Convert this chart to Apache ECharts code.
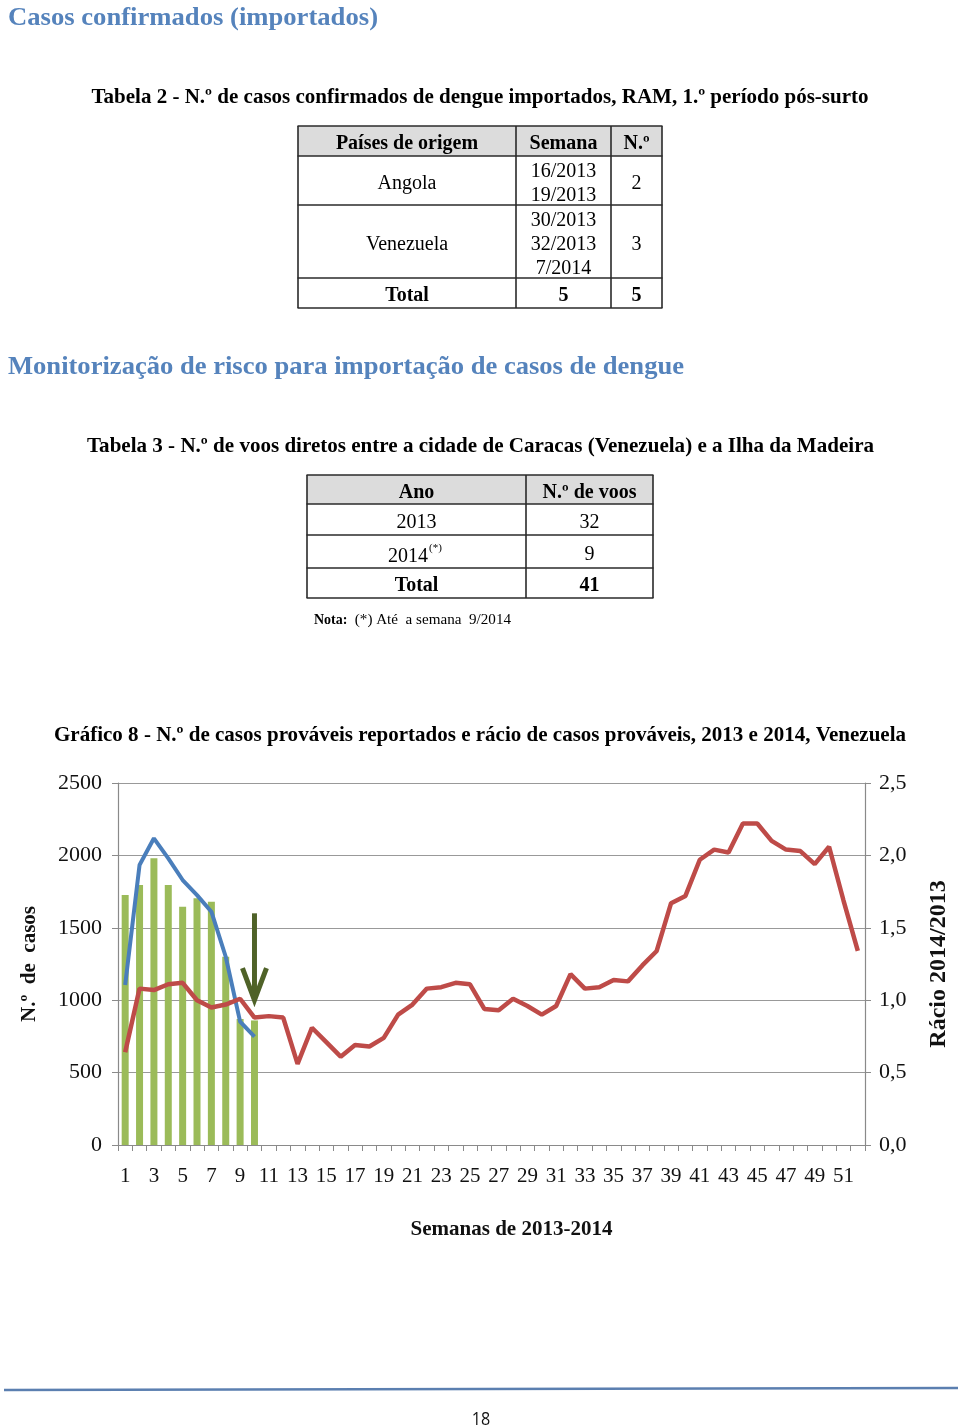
<!DOCTYPE html>
<html><head><meta charset="utf-8">
<script src="https://cdn.jsdelivr.net/npm/echarts@6/dist/echarts.min.js"></script>
<style>html,body{margin:0;padding:0;background:#fff}#c{width:960px;height:1428px}</style>
</head><body><div id="c"></div>
<script>
// ---------- DATA ----------
const weeks = ['1','2','3','4','5','6','7','8','9','10','11','12','13','14','15','16','17','18','19','20','21','22','23','24','25','26','27','28','29','30','31','32','33','34','35','36','37','38','39','40','41','42','43','44','45','46','47','48','49','50','51','52'];
const casosBarras = [1726,1796,1980,1796,1646,1704,1680,1300,870,860];
const casosLinha = [1105,1934,2118,1980,1830,1726,1611,1300,852,748];
const racio = [0.64,1.08,1.07,1.11,1.12,1.00,0.95,0.97,1.01,0.88,0.89,0.88,0.56,0.81,0.71,0.61,0.69,0.68,0.74,0.90,0.97,1.08,1.09,1.12,1.11,0.94,0.93,1.01,0.96,0.90,0.96,1.18,1.08,1.09,1.14,1.13,1.24,1.34,1.67,1.72,1.97,2.04,2.02,2.22,2.22,2.10,2.04,2.03,1.94,2.06,1.69,1.34];
const casosTicks = ['0','500','1000','1500','2000','2500'];
const racioTicks = ['0,0','0,5','1,0','1,5','2,0','2,5'];
const seta = ['10', 1600, 1000]; // week, start value, tip value

const t2Head = ['Países de origem','Semana','N.º'];
const t2Rows = [
  ['Angola', ['16/2013','19/2013'], '2'],
  ['Venezuela', ['30/2013','32/2013','7/2014'], '3'],
  ['Total', ['5'], '5']
];
const t3Head = ['Ano','N.º de voos'];
const t3Rows = [['2013','32'],['2014','9'],['Total','41']];

const h1 = 'Casos confirmados (importados)';
const t2Title = 'Tabela 2 - N.º de casos confirmados de dengue importados, RAM, 1.º período pós-surto';
const h2 = 'Monitorização de risco para importação de casos de dengue';
const t3Title = 'Tabela 3 - N.º de voos diretos entre a cidade de Caracas (Venezuela) e a Ilha da Madeira';
const gTitle = 'Gráfico 8 - N.º de casos prováveis reportados e rácio de casos prováveis, 2013 e 2014, Venezuela';
const nota = ['Nota:', ' (*) Até  a semana  9/2014'];
const pageNum = '18';

// ---------- HELPERS ----------
const SERIF = '"Liberation Serif", "Times New Roman", serif';
const DY = 2;
const mctx = document.createElement('canvas').getContext('2d');
function fit(text, font, w){ mctx.font = font; return w / mctx.measureText(text).width; }
function T(text, x, y, font, o){
  o = o || {};
  const s = o.w ? fit(text, font, o.w) : (o.s || 1);
  const al = o.align || 'center';
  return {type:'text', x:x, y:y + DY, scaleX:s, z:100, silent:true,
    style:{text:text, font:font, fill:o.color||'#000', textAlign:al, align:al, textVerticalAlign:'middle', verticalAlign:'middle'}};
}
function grid(colX, rowY){
  const els = [];
  const L = colX[0], R = colX[colX.length-1], Tp = rowY[0], B = rowY[rowY.length-1];
  els.push({type:'rect', z:90, shape:{x:L, y:Tp, width:R-L, height:rowY[1]-Tp}, style:{fill:'#DCDCDC'}});
  rowY.forEach(y => els.push({type:'line', z:95, shape:{x1:L-0.5,y1:y,x2:R+0.5,y2:y}, style:{stroke:'#2a2a2a', lineWidth:1.6}}));
  colX.forEach(x => els.push({type:'line', z:95, shape:{x1:x,y1:Tp,x2:x,y2:B}, style:{stroke:'#2a2a2a', lineWidth:1.6}}));
  return els;
}

const G = [];
const BLUE = '#5583BC';
G.push(T(h1, 8, 17, 'bold 25px ' + SERIF, {align:'left', color:BLUE, w:370}));
G.push(T(t2Title, 480, 96, 'bold 21px ' + SERIF, {w:777}));
// Table 2
const t2X = [298,516,611,662], t2Y = [126,156,205,278,308];
G.push(...grid(t2X, t2Y));
t2Head.forEach((h,i) => G.push(T(h, (t2X[i]+t2X[i+1])/2, 142, 'bold 20px ' + SERIF)));
t2Rows.forEach((r, ri) => {
  const cy = (t2Y[ri+1] + t2Y[ri+2]) / 2 + 1;
  const bold = ri === t2Rows.length - 1;
  const f = (bold ? 'bold ' : '') + '20px ' + SERIF;
  G.push(T(r[0], (t2X[0]+t2X[1])/2, cy, f));
  r[1].forEach((w, k) => G.push(T(w, (t2X[1]+t2X[2])/2, cy + (k - (r[1].length-1)/2) * 24, f)));
  G.push(T(r[2], (t2X[2]+t2X[3])/2, cy, f));
});
G.push(T(h2, 8, 365, 'bold 26px ' + SERIF, {align:'left', color:BLUE, w:676}));
G.push(T(t3Title, 480.5, 444, 'bold 22px ' + SERIF, {w:787}));
// Table 3
const t3X = [307,526,653], t3Y = [475,504,535,568,598];
G.push(...grid(t3X, t3Y));
t3Head.forEach((h,i) => G.push(T(h, (t3X[i]+t3X[i+1])/2, 491, 'bold 20px ' + SERIF)));
t3Rows.forEach((r, ri) => {
  const cy = (t3Y[ri+1] + t3Y[ri+2]) / 2 + 1;
  const bold = ri === t3Rows.length - 1;
  const f = (bold ? 'bold ' : '') + '20px ' + SERIF;
  if (ri === 1) {
    G.push(T(r[0], 428, cy + 2, f, {align:'right'}));
    G.push(T('(*)', 429, cy - 6, '11px ' + SERIF, {align:'left'}));
  } else {
    G.push(T(r[0], (t3X[0]+t3X[1])/2, cy, f));
  }
  G.push(T(r[1], (t3X[1]+t3X[2])/2, cy, f));
});
G.push(T(nota[0], 314, 618, 'bold 14px ' + SERIF, {align:'left'}));
G.push(T(nota[1], 351, 618, '14px ' + SERIF, {align:'left', w:160}));
G.push(T(gTitle, 480, 733, 'bold 22px ' + SERIF, {w:852}));
// footer
G.push({type:'line', z:90, shape:{x1:4,y1:1390,x2:958,y2:1388}, style:{stroke:'#5B7FB0', lineWidth:2.5}});
G.push(T(pageNum, 481, 1418, '19px "Open Sans", sans-serif', {s:0.85, color:'#111'}));

// ---------- CHART ----------
const chart = echarts.init(document.getElementById('c'), null, {renderer:'canvas'});
const axisFont = {fontFamily:SERIF, fontSize:22, color:'#111'};
const nameFont = {fontFamily:SERIF, fontWeight:'bold', fontSize:21, color:'#111'};
chart.setOption({
  animation:false,
  backgroundColor:'#fff',
  graphic:G,
  grid:{left:118, right:95, top:783, bottom:283},
  xAxis:{
    type:'category', data:weeks, boundaryGap:true,
    axisLine:{lineStyle:{color:'#8a8a8a', width:1.2}},
    axisTick:{show:true, interval:0, length:6, lineStyle:{color:'#8a8a8a'}},
    axisLabel:Object.assign({interval:1, margin:21}, axisFont, {fontSize:21}),
    name:'Semanas de 2013-2014', nameLocation:'middle', nameGap:74,
    nameTextStyle:Object.assign({}, nameFont, {padding:[0,0,0,40]})
  },
  yAxis:[
    {type:'value', min:0, max:2500, interval:500, position:'left',
     axisLine:{show:true, lineStyle:{color:'#8a8a8a', width:1.2}},
     axisTick:{show:true, length:6, lineStyle:{color:'#8a8a8a'}},
     splitLine:{show:true, lineStyle:{color:'#999', width:1.2}},
     axisLabel:Object.assign({margin:16, formatter:(v,i)=>casosTicks[i]}, axisFont),
     name:'N.º  de  casos', nameLocation:'middle', nameGap:78, nameTextStyle:nameFont},
    {type:'value', min:0, max:2.5, interval:0.5, position:'right',
     axisLine:{show:true, lineStyle:{color:'#8a8a8a', width:1.2}},
     axisTick:{show:true, length:6, lineStyle:{color:'#8a8a8a'}},
     splitLine:{show:false},
     axisLabel:Object.assign({margin:14, formatter:(v,i)=>racioTicks[i]}, axisFont),
     name:'Rácio 2014/2013', nameLocation:'middle', nameGap:62,
     nameTextStyle:Object.assign({}, nameFont, {fontSize:24})}
  ],
  series:[
    {name:'Casos (barras)', type:'bar', data:casosBarras, barWidth:7, itemStyle:{color:'#9BBB59'}, z:2},
    {name:'Casos (linha)', type:'line', data:casosLinha, showSymbol:false, lineStyle:{color:'#4A7EBB', width:4}, z:3},
    {name:'Rácio 2014/2013', type:'line', yAxisIndex:1, data:racio, showSymbol:false, lineStyle:{color:'#BE4B48', width:4.5}, z:4},
    {type:'custom', yAxisIndex:0, data:[seta], encode:{x:0, y:[1,2]}, z:5,
     renderItem:(params, api) => {
       const a = api.coord([api.value(0), api.value(1)]);
       const b = api.coord([api.value(0), api.value(2)]);
       const c = '#4F6228';
       return {type:'group', children:[
         {type:'line', shape:{x1:a[0], y1:a[1], x2:b[0], y2:b[1]-4}, style:{stroke:c, lineWidth:5}},
         {type:'polyline', shape:{points:[[b[0]-12, b[1]-32],[b[0], b[1]],[b[0]+12, b[1]-32]]}, style:{stroke:c, lineWidth:5, fill:null, lineJoin:'miter'}}
       ]};
     }}
  ]
});
</script></body></html>
